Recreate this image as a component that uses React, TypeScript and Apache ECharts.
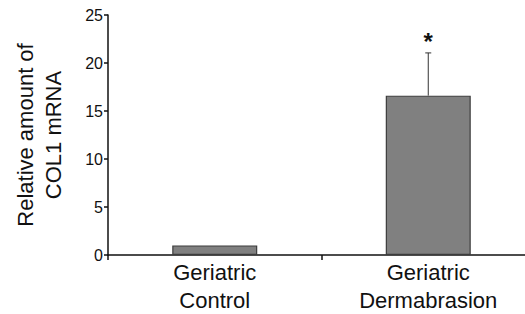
import React, { useEffect, useRef } from "react";
import * as echarts from "echarts";

const categories = ["Geriatric\nControl", "Geriatric\nDermabrasion"];
const means = [1.0, 16.6];
const errorsUp = [0, 4.45];
const marks = ["", "*"];
const yTicks = { min: 0, max: 25, interval: 5 };

export default function App() {
  const ref = useRef<HTMLDivElement>(null);
  useEffect(() => {
    if (!ref.current) return;
    const chart = echarts.init(ref.current, undefined, { renderer: "svg" });
    const font = "Liberation Sans, Arial, sans-serif";
    chart.setOption({
      animation: false,
      grid: { left: 108, top: 15, bottom: 56, width: 427, containLabel: false },
      xAxis: {
        type: "category",
        data: categories,
        axisLine: { lineStyle: { color: "#111", width: 1.5 } },
        axisTick: { show: true, length: 5, lineStyle: { color: "#111", width: 1.5 } },
        axisLabel: { color: "#111", fontSize: 22, fontFamily: font, lineHeight: 28, margin: 3 },
      },
      yAxis: {
        type: "value",
        min: yTicks.min,
        max: yTicks.max,
        interval: yTicks.interval,
        name: "Relative amount of\nCOL1 mRNA",
        nameLocation: "middle",
        nameRotate: 90,
        nameGap: 41,
        nameTextStyle: { color: "#111", fontSize: 22, fontFamily: font, lineHeight: 28 },
        splitLine: { show: false },
        axisLine: { show: true, lineStyle: { color: "#111", width: 1.5 } },
        axisTick: { show: true, length: 4, lineStyle: { color: "#111", width: 1.5 } },
        axisLabel: { color: "#111", fontSize: 16, fontFamily: font, margin: 5 },
      },
      series: [
        {
          type: "bar",
          data: means,
          barWidth: 85,
          itemStyle: { color: "#808080", borderColor: "#3c3c3c", borderWidth: 1.2 },
          z: 2,
        },
        {
          type: "custom",
          z: 3,
          data: means.map((m, i) => [i, m, m + errorsUp[i]]),
          renderItem: (params: any, api: any) => {
            const i = api.value(0);
            const lo = api.coord([i, api.value(1)]);
            const hi = api.coord([i, api.value(2)]);
            const children: any[] = [];
            if (api.value(2) > api.value(1)) {
              children.push({
                type: "line",
                shape: { x1: lo[0], y1: lo[1], x2: hi[0], y2: hi[1] },
                style: { stroke: "#333", lineWidth: 1 },
              });
              children.push({
                type: "line",
                shape: { x1: hi[0] - 3, y1: hi[1], x2: hi[0] + 3, y2: hi[1] },
                style: { stroke: "#333", lineWidth: 1 },
              });
            }
            const mark = marks[i];
            if (mark) {
              children.push({
                type: "text",
                x: hi[0],
                y: hi[1] + 1,
                style: {
                  text: mark,
                  fill: "#111",
                  font: "bold 24px Liberation Sans, Arial, sans-serif",
                  align: "center",
                  verticalAlign: "bottom",
                },
              });
            }
            return { type: "group", children };
          },
        },
      ],
    });
    return () => chart.dispose();
  }, []);
  return (
    <div style={{ position: "absolute", left: 0, top: 0, width: 525, height: 314, overflow: "hidden", background: "#fff" }}>
      <div ref={ref} style={{ width: 545, height: 314 }} />
    </div>
  );
}
